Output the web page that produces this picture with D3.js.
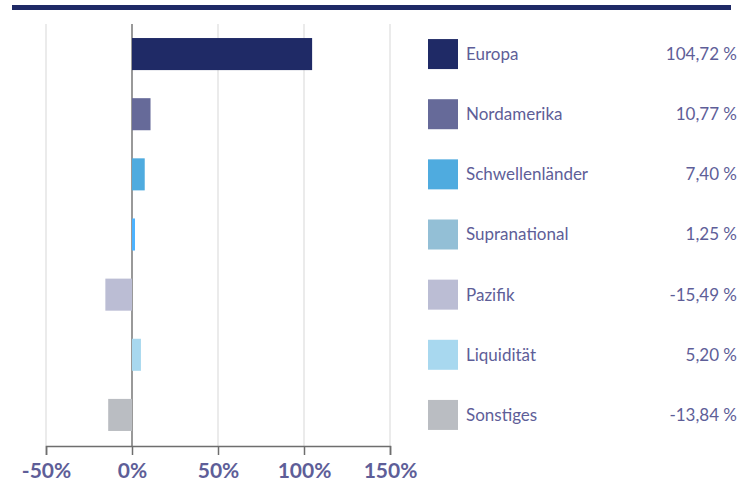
<!DOCTYPE html>
<html>
<head>
<meta charset="utf-8">
<script src="https://cdn.jsdelivr.net/npm/d3@7"></script>
<style>
  body { margin: 0; background: #fff; }
  text { font-family: Lato, "Noto Sans", sans-serif; }
</style>
</head>
<body>
<div class="chart"></div>
<script>
var categories = ['Europa', 'Nordamerika', 'Schwellenländer', 'Supranational', 'Pazifik', 'Liquidität', 'Sonstiges'];
var values = [104.72, 10.77, 7.40, 1.25, -15.49, 5.20, -13.84];
var valueLabels = ['104,72 %', '10,77 %', '7,40 %', '1,25 %', '-15,49 %', '5,20 %', '-13,84 %'];
var tickValues = [-50, 0, 50, 100, 150];

var legendColors = ['#1f2a66', '#666a99', '#4fabdf', '#93bfd6', '#bbbdd4', '#a8d8ef', '#babdc2'];
var barColors = ['#1f2a66', '#666a99', '#4fabdf', '#4db3ff', '#bbbdd4', '#a8d8ef', '#babdc2'];

var textColor = '#5e5e98';

var svg = d3.select(".chart")
    .append("svg")
    .attr("width", 755)
    .attr("height", 487)

// top rule
svg.append("rect")
    .attr("x", 12).attr("y", 5)
    .attr("width", 719).attr("height", 5)
    .attr("fill", "#1f2a66")

var x = d3.scaleLinear().domain([-50, 150]).range([46, 390]);
var y = d3.scaleBand().domain(categories).range([23, 446]).paddingInner(0.467).paddingOuter(0.25);

// grid
svg.selectAll("line.grid")
    .data(tickValues.filter(function (d) { return d !== 0; }))
    .enter()
    .append("line")
    .attr("class", "grid")
    .attr("x1", function (d) { return x(d); })
    .attr("x2", function (d) { return x(d); })
    .attr("y1", 24)
    .attr("y2", 446)
    .attr("stroke", "#e4e4e4")
    .attr("stroke-width", 1.5)

// zero line (under the bars)
svg.append("line")
    .attr("x1", x(0)).attr("x2", x(0))
    .attr("y1", 24).attr("y2", 446)
    .attr("stroke", "#777")
    .attr("stroke-width", 1.5)

// bars
svg.selectAll("rect.bar")
    .data(values)
    .enter()
    .append("rect")
    .attr("class", "bar")
    .attr("x", function (d) { return x(Math.min(0, d)); })
    .attr("width", function (d) { return Math.max(3, Math.abs(x(d) - x(0))); })
    .attr("y", function (d, i) { return y(categories[i]); })
    .attr("height", y.bandwidth())
    .attr("fill", function (d, i) { return barColors[i]; })

// x axis
var axis = svg.append("g")
    .attr("transform", "translate(0,446)")
    .call(d3.axisBottom(x).tickValues(tickValues).tickSize(9).tickPadding(8)
        .tickFormat(function (d) { return d + '%'; }))

axis.select(".domain").attr("stroke", "#6e6e6e").attr("stroke-width", 1.5)
axis.selectAll(".tick line").attr("stroke", "#6e6e6e").attr("stroke-width", 1.5)
axis.selectAll(".tick text")
    .attr("fill", textColor)
    .style("font-size", "21px")
    .style("font-weight", "bold")
    .style("font-family", "Lato, sans-serif")

// legend
var legend = svg.selectAll("g.legend")
    .data(categories)
    .enter()
    .append("g")
    .attr("class", "legend")
    .attr("transform", function (d) { return "translate(0," + (y(d) + y.bandwidth() / 2) + ")"; })

legend.append("rect")
    .attr("x", 428).attr("y", -15)
    .attr("width", 30).attr("height", 30)
    .attr("fill", function (d, i) { return legendColors[i]; })

legend.append("text")
    .attr("x", 466).attr("y", 0)
    .attr("dy", "0.35em")
    .attr("fill", textColor)
    .style("font-size", "17px")
    .text(function (d) { return d; })

legend.append("text")
    .attr("x", 737).attr("y", 0)
    .attr("dy", "0.35em")
    .attr("text-anchor", "end")
    .attr("fill", textColor)
    .style("font-size", "17px")
    .text(function (d, i) { return valueLabels[i]; })
</script>
</body>
</html>
